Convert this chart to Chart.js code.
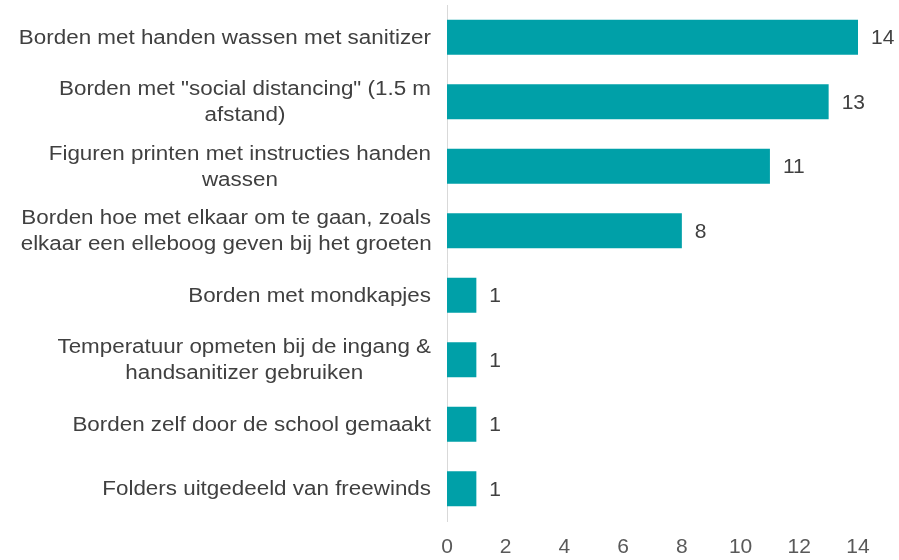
<!DOCTYPE html>
<html>
<head>
<meta charset="utf-8">
<script src="https://cdn.jsdelivr.net/npm/chart.js@4"></script>
<style>
  html, body { margin: 0; padding: 0; background: #fff; }
  #wrap { width: 899px; height: 560px; }
</style>
</head>
<body>
<div id="wrap"><canvas id="chart" width="899" height="560"></canvas></div>
<script>
// categorieën (meerregelige labels)
const categories = [
    ['Borden met handen wassen met sanitizer'],
    ['Borden met "social distancing" (1.5 m', 'afstand)'],
    ['Figuren printen met instructies handen', 'wassen'],
    ['Borden hoe met elkaar om te gaan, zoals', 'elkaar een elleboog geven bij het groeten'],
    ['Borden met mondkapjes'],
    ['Temperatuur opmeten bij de ingang &', 'handsanitizer gebruiken'],
    ['Borden zelf door de school gemaakt'],
    ['Folders uitgedeeld van freewinds']
];
const values = [14, 13, 11, 8, 1, 1, 1, 1];
const xTicks = [0, 2, 4, 6, 8, 10, 12, 14];

const barColor = '#00A0A8';
const fontFamily = '"Liberation Sans", Arial, sans-serif';

// categorielabels zelf tekenen (iets breder uitgerekt, zoals in het origineel)
const categoryLabels = {
    id: 'categoryLabels',
    afterDraw(chart) {
        const ctx = chart.ctx;
        const yScale = chart.scales.y;
        const right = chart.chartArea.left - 16;
        const stretch = 1.12;
        const lineHeight = 26;
        ctx.save();
        ctx.font = '20px ' + fontFamily;
        ctx.fillStyle = '#404040';
        ctx.textAlign = 'right';
        ctx.textBaseline = 'middle';
        categories.forEach((lines, i) => {
            const cy = yScale.getPixelForValue(i) + 1;
            const top = cy - (lines.length - 1) * lineHeight / 2;
            lines.forEach((line, j) => {
                ctx.save();
                ctx.translate(right, top + j * lineHeight);
                ctx.scale(stretch, 1);
                if (lines.length > 1 && j === lines.length - 1 && lines.length === 2) {
                    // tweede regel gecentreerd onder de eerste
                    const w1 = ctx.measureText(lines[0]).width;
                    ctx.textAlign = 'center';
                    ctx.fillText(line, -w1 / 2, 0);
                    ctx.textAlign = 'right';
                } else {
                    ctx.fillText(line, 0, 0);
                }
                ctx.restore();
            });
        });
        ctx.restore();
    }
};

// waarden naast de balken tekenen
const valueLabels = {
    id: 'valueLabels',
    afterDatasetsDraw(chart) {
        const ctx = chart.ctx;
        const meta = chart.getDatasetMeta(0);
        ctx.save();
        ctx.font = '21px ' + fontFamily;
        ctx.fillStyle = '#404040';
        ctx.textAlign = 'left';
        ctx.textBaseline = 'middle';
        meta.data.forEach((bar, i) => {
            ctx.fillText(String(values[i]), bar.x + 13, bar.y + 1);
        });
        ctx.restore();
    }
};

const chart = new Chart(document.getElementById('chart').getContext('2d'), {
    type: 'bar',
    data: {
        labels: categories,
        datasets: [{
            data: values,
            backgroundColor: barColor,
            borderWidth: 0,
            barPercentage: 0.54,
            categoryPercentage: 1
        }]
    },
    options: {
        indexAxis: 'y',
        responsive: false,
        animation: false,
        layout: { padding: { top: 5, right: 41, left: 0, bottom: 0 } },
        plugins: {
            legend: { display: false },
            tooltip: { enabled: false }
        },
        scales: {
            x: {
                min: 0,
                max: 14,
                afterBuildTicks: (scale) => {
                    scale.ticks = xTicks.map(v => ({ value: v }));
                },
                afterFit: (scale) => {
                    scale.height = 39;
                    scale.paddingLeft = 0;
                    scale.paddingRight = 0;
                },
                grid: { display: false },
                border: { display: false },
                ticks: {
                    color: '#595959',
                    font: { family: fontFamily, size: 21 },
                    padding: 6,
                    maxRotation: 0
                }
            },
            y: {
                afterFit: (scale) => {
                    scale.width = 447;
                    scale.paddingTop = 0;
                    scale.paddingBottom = 0;
                },
                grid: { display: false },
                border: { display: true, color: '#d9d9d9', width: 1 },
                ticks: { display: false }
            }
        }
    },
    plugins: [valueLabels, categoryLabels]
});
</script>
</body>
</html>
